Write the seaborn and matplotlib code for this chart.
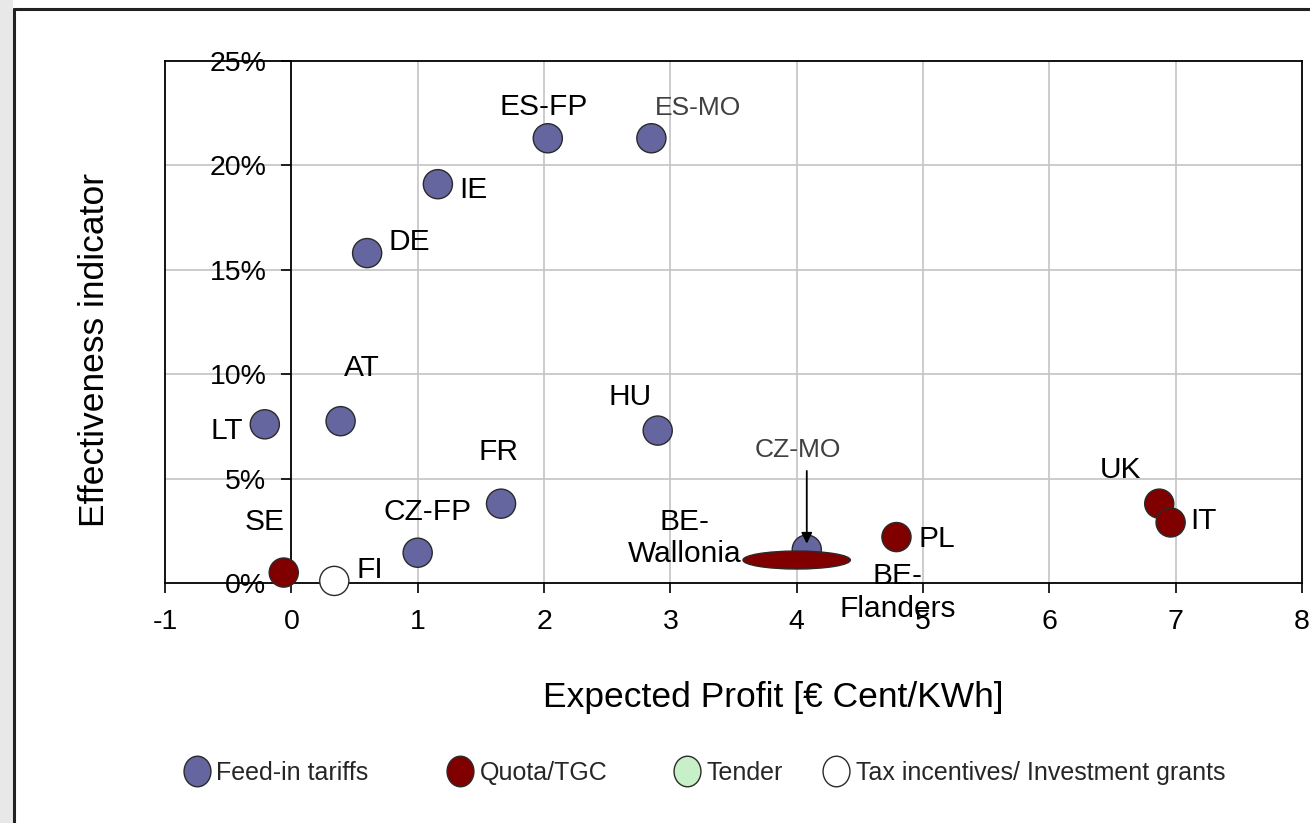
import numpy as np
import pandas as pd
import matplotlib
matplotlib.use("Agg")
import matplotlib.pyplot as plt
import seaborn as sns
from matplotlib.patches import Ellipse, Rectangle
from matplotlib.lines import Line2D
from matplotlib.path import Path
from matplotlib.transforms import Affine2D
from matplotlib.ticker import FuncFormatter

# ---------------- data ----------------
countries = ["LT", "AT", "DE", "IE", "ES-FP", "ES-MO", "HU", "FR", "CZ-FP", "CZ-MO",
             "SE", "FI", "PL", "UK", "IT"]
expected_profit = [-0.21, 0.39, 0.60, 1.16, 2.03, 2.85, 2.90, 1.66, 1.00, 4.08,
                   -0.06, 0.34, 4.79, 6.87, 6.96]
effectiveness = [7.6, 7.75, 15.8, 19.1, 21.3, 21.3, 7.3, 3.8, 1.45, 1.6,
                 0.5, 0.1, 2.2, 3.8, 2.9]
scheme = ["Feed-in tariffs"] * 10 + ["Quota/TGC", "Tax incentives/ Investment grants",
                                     "Quota/TGC", "Quota/TGC", "Quota/TGC"]

# Belgium range (Wallonia - Flanders), drawn as a flat ellipse
be_center_x = [4.0]
be_center_y = [1.1]
be_width = [0.85]
be_height = [0.86]

schemes = ["Feed-in tariffs", "Quota/TGC", "Tender", "Tax incentives/ Investment grants"]
scheme_colors = ["#65659f", "#800000", "#c8f0c8", "#ffffff"]

x_ticks = [-1, 0, 1, 2, 3, 4, 5, 6, 7, 8]
y_ticks = [0, 5, 10, 15, 20, 25]

df = pd.DataFrame({"country": countries, "profit": expected_profit,
                   "eff": effectiveness, "scheme": scheme})

# ---------------- style ----------------
sns.set_theme(style="white")
plt.rcParams["font.family"] = ["Liberation Sans", "DejaVu Sans"]
plt.rcParams["axes.unicode_minus"] = False

fig = plt.figure(figsize=(13.1, 8.23), dpi=100)
fig.patch.set_facecolor("white")
W, H = 1310, 823
ax = fig.add_axes([165 / W, 1 - 583 / H, (1302 - 165) / W, (583 - 61) / H])

palette = dict(zip(schemes, scheme_colors))

# grid
for xv in x_ticks[2:-1]:
    ax.axvline(xv, color="#c4c4c4", lw=1.2, zorder=0)
for yv in y_ticks[1:-1]:
    ax.axhline(yv, color="#c4c4c4", lw=1.2, zorder=0)

sns.scatterplot(data=df, x="profit", y="eff", hue="scheme", palette=palette,
                s=440, edgecolor="#2a2a2a", linewidth=1.0, legend=False,
                ax=ax, zorder=3, clip_on=False)

# Belgium ellipse
for cx, cy, w, h in zip(be_center_x, be_center_y, be_width, be_height):
    ax.add_patch(Ellipse((cx, cy), w, h, facecolor="#800000",
                         edgecolor="#2a2a2a", lw=1.0, zorder=4))

ax.set_xlim(x_ticks[0], x_ticks[-1])
ax.set_ylim(y_ticks[0], y_ticks[-1])
ax.set_xticks(x_ticks)
ax.set_yticks(y_ticks)
ax.yaxis.set_major_formatter(FuncFormatter(lambda v, p: f"{v:.0f}%"))

# y axis at x = 0, border at x = -1
ax.spines["left"].set_position(("data", 0))
for s in ["left", "right", "top", "bottom"]:
    ax.spines[s].set_color("black")
    ax.spines[s].set_linewidth(1.3)
ax.axvline(-1, color="black", lw=1.3, clip_on=False, zorder=5)

ax.tick_params(axis="x", direction="out", length=7, width=1.2, pad=12,
               labelsize=20.5, colors="black", bottom=True)
ax.tick_params(axis="y", direction="out", length=7, width=1.2, pad=11,
               labelsize=20.5, colors="black", left=True)
ax.set_xlabel("")
ax.set_ylabel("")

# point labels
labels = {
    "ES-FP": (1.995, 22.8, "black", 21.5),
    "ES-MO": (3.22, 22.75, "#404040", 19),
    "IE": (1.44, 18.8, "black", 21.5),
    "DE": (0.93, 16.35, "black", 21.5),
    "AT": (0.56, 10.28, "black", 21.5),
    "LT": (-0.515, 7.27, "black", 21.5),
    "HU": (2.68, 8.89, "black", 21.5),
    "FR": (1.64, 6.26, "black", 21.5),
    "CZ-FP": (1.08, 3.39, "black", 21.5),
    "SE": (-0.21, 2.92, "black", 21.5),
    "FI": (0.62, 0.62, "black", 21.5),
    "CZ-MO": (4.006, 6.36, "#404040", 19),
    "BE-\nWallonia": (3.11, 2.15, "black", 21.5),
    "BE-\nFlanders": (4.80, -0.45, "black", 21.5),
    "PL": (5.11, 2.10, "black", 21.5),
    "UK": (6.56, 5.40, "black", 21.5),
    "IT": (7.22, 2.96, "black", 21.5),
}
for t, (lx, ly, c, fs) in labels.items():
    ax.text(lx, ly, t, ha="center", va="center", color=c, fontsize=fs,
            linespacing=1.2, zorder=6, clip_on=False)

# arrow for CZ-MO
ax.annotate("", xy=(4.08, 1.75), xytext=(4.08, 5.5),
            arrowprops=dict(arrowstyle="-|>", color="black", lw=1.3,
                            mutation_scale=16), zorder=6)

# axis titles
fig.text(773 / W, 1 - 697 / H, "Expected Profit [€ Cent/KWh]", ha="center",
         va="center", fontsize=25.5, color="black")
fig.text(95 / W, 1 - 350 / H, "Effectiveness indicator", ha="center",
         va="center", rotation=90, fontsize=25.5, color="black")

# legend (four entries placed individually)
oval = Path.unit_circle().transformed(Affine2D().scale(0.88, 1.0))
leg_x = [184, 447, 674, 823]
for name, col, lx in zip(schemes, scheme_colors, leg_x):
    h = Line2D([], [], marker=oval, linestyle="none", markersize=22,
               markerfacecolor=col, markeredgecolor="#2a2a2a", markeredgewidth=1.0)
    fig.legend([h], [name], loc="center left",
               bbox_to_anchor=(lx / W, 1 - 773 / H), frameon=False,
               handlelength=1.0, handletextpad=0.3, borderpad=0,
               borderaxespad=0, fontsize=18)

# outer page frame
fig.patches.append(Rectangle((0, 0), 13 / W, 1, transform=fig.transFigure,
                             facecolor="#e8e8e8", edgecolor="none", zorder=0))
fig.lines.append(Line2D([14 / W, 14 / W], [0, 1 - 9 / H], transform=fig.transFigure,
                        color="#222222", lw=2.2))
fig.lines.append(Line2D([14 / W, 1], [1 - 9 / H, 1 - 9 / H], transform=fig.transFigure,
                        color="#222222", lw=2.2))

fig.savefig("out.png", dpi=100)
